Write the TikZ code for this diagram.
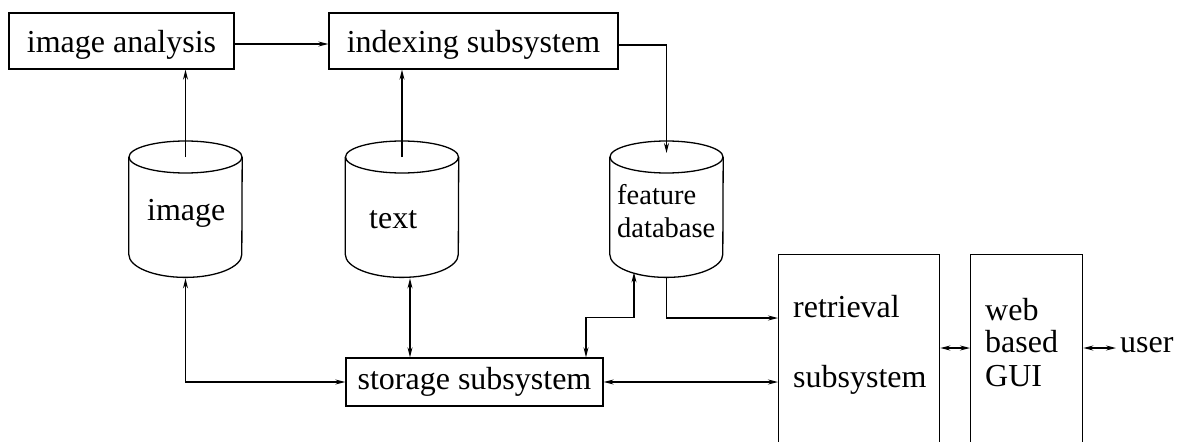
\documentclass[tikz,border=0pt]{standalone}
\usepackage{fontspec}
\setmainfont{Liberation Serif}
\usetikzlibrary{arrows.meta, positioning, calc}

\tikzset{
  box/.style={draw, line width=1.3pt, inner sep=0pt, font=\fontsize{32}{33}\selectfont},
  topbox/.style={box, minimum height=56pt, text height=24pt, text depth=2pt},
  dbase/.style={inner sep=0pt, minimum width=113pt, minimum height=136pt, anchor=north},
  dbline/.style={line width=1.3pt},
  lbl/.style={inner sep=0pt, anchor=base west, font=\fontsize{32}{33}\selectfont},
  small/.style={font=\fontsize{28.5}{30}\selectfont},
  conn/.style={line width=1.3pt, -{Stealth[length=10pt,width=5pt]}},
  biconn/.style={line width=1.3pt, {Stealth[length=10pt,width=5pt]}-{Stealth[length=10pt,width=5pt]}},
}

% database drum: name, centre x
\newcommand{\drumdb}[2]{%
  \node[dbase] (#1) at (#2,141) {};
  \draw[dbline] ([yshift=-16pt]#1.north west) -- ([yshift=23pt]#1.south west)
    arc[start angle=180, end angle=360, x radius=56.5pt, y radius=23pt]
    -- ([yshift=-16pt]#1.north east);
  \draw[dbline] ([yshift=-16pt]#1.north) ellipse[x radius=56.5pt, y radius=16pt];
}

\begin{document}
\begin{tikzpicture}[x=1pt, y=-1pt]
  \useasboundingbox (0,0) rectangle (1187,442);
  \clip (0,0) rectangle (1187,442);

  % subsystems
  \node[topbox, minimum width=225pt] (ana) at (121.5,41) {image analysis};
  \node[topbox, minimum width=289pt] (idx) at (473.5,41) {indexing subsystem};
  \node[box, minimum width=257pt, minimum height=48pt] (sto) at (474.5,382) {storage subsystem};
  \node[box, minimum width=161pt, minimum height=220pt, anchor=north west] (ret) at (778,254) {};
  \node[box, minimum width=112pt, minimum height=220pt, anchor=north west] (gui) at (970,254) {};

  % databases
  \drumdb{img}{185.5}
  \drumdb{txt}{402}
  \drumdb{feat}{666.5}

  % labels
  \node[lbl] (imgT) at (147,220) {image};
  \node[lbl] (txtT) at (369,228) {text};
  \node[lbl, small] (featA) at (617,204) {feature};
  \node[lbl, small] (featB) at (617,237) {database};
  \node[lbl] (retA) at (793,317) {retrieval};
  \node[lbl] (retB) at (793,387) {subsystem};
  \node[lbl] (guiA) at (985,320) {web};
  \node[lbl] (guiB) at (985,352) {based};
  \node[lbl] (guiC) at (985,386) {GUI};
  \node[lbl] (user) at (1120,352) {user};

  % connections
  \draw[conn] ([yshift=-3pt]ana.east) -- ([yshift=-3pt]idx.west);
  \draw[conn] ([yshift=-16pt]img.north) -- (img.north |- ana.south);
  \draw[conn] ([yshift=-16pt]txt.north) -- (txt.north |- idx.south);
  \draw[conn] ([yshift=-4pt]idx.east) -| ([yshift=-12pt]feat.north);
  \draw[biconn] ([yshift=-1pt]img.south) |- (sto.west);
  \draw[biconn] ([xshift=8pt,yshift=-1pt]txt.south) -- ([xshift=8pt]txt.south |- sto.north);
  \draw[biconn] ([xshift=111.5pt]sto.north) -- ++(0,-40) -| ([xshift=-32.5pt,yshift=5pt]feat.south);
  \draw[conn] (feat.south) |- ([yshift=-64pt]ret.north west);
  \draw[biconn] (sto.east) -- (sto.east -| ret.west);
  \draw[biconn] ([yshift=-94pt]ret.north east) -- ([yshift=-94pt]gui.north west);
  \draw[biconn, shorten >=4pt] ([yshift=-94pt]gui.north east) -- ([yshift=-94pt]gui.north east -| user.west);
\end{tikzpicture}
\end{document}
